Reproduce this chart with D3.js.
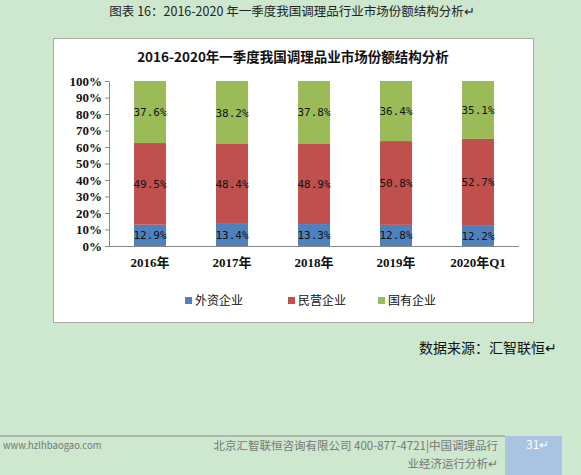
<!DOCTYPE html>
<html><head><meta charset="utf-8">
<script src="https://cdn.jsdelivr.net/npm/d3@7/dist/d3.min.js"></script>
<style>body{margin:0;background:#cde8cf;}svg{display:block}</style>
</head><body>
<svg id="c" width="581" height="475"></svg>
<script>
const categories = ["2016年","2017年","2018年","2019年","2020年Q1"];
const seriesNames = ["外资企业","民营企业","国有企业"];
const foreign = [12.9,13.4,13.3,12.8,12.2];
const privateE = [49.5,48.4,48.9,50.8,52.7];
const stateE = [37.6,38.2,37.8,36.4,35.1];
const yTicks = [0,10,20,30,40,50,60,70,80,90,100];
const colors = ["#4f81bd","#c0504d","#9bbb59"];
const font = "'Noto Sans CJK SC','Noto Sans',sans-serif";
const serif = "'Liberation Serif','Noto Sans CJK SC',serif";

const svg = d3.select("#c");
svg.append("rect").attr("width",581).attr("height",475).attr("fill","#cde8cf");
svg.append("text").attr("x",292).attr("y",16).attr("text-anchor","middle").attr("font-family",font)
  .attr("font-size",12.5).attr("fill","#222").text("图表 16：2016-2020 年一季度我国调理品行业市场份额结构分析↵");
svg.append("rect").attr("x",53.5).attr("y",38.5).attr("width",480).attr("height",284)
  .attr("fill","#fff").attr("stroke","#aaa");
svg.append("text").attr("x",293).attr("y",62).attr("text-anchor","middle").attr("font-family",font)
  .attr("font-size",13.5).attr("font-weight","bold").attr("fill","#111").text("2016-2020年一季度我国调理品业市场份额结构分析");

const x = d3.scaleBand().domain(categories).range([109,519]).paddingInner(0.61).paddingOuter(0.305);
const y = d3.scaleLinear().domain([0,100]).range([246,81]);
const g = svg.append("g");
const ax = g.append("g").attr("transform","translate(109,0)")
  .call(d3.axisLeft(y).tickValues(yTicks).tickFormat(d=>d+"%").tickSize(4).tickSizeOuter(0));
ax.select(".domain").attr("stroke","#888");
ax.selectAll("line").attr("stroke","#888");
ax.selectAll("text").attr("font-family",serif).attr("font-size",13).attr("font-weight","bold").attr("fill","#111");
const bx = g.append("g").attr("transform","translate(0,246)")
  .call(d3.axisBottom(x).tickSize(0).tickPadding(12));
bx.select(".domain").attr("stroke","#888").attr("d","M109,0.5H519");
bx.selectAll("text").attr("font-family",serif).attr("font-size",13).attr("font-weight","bold").attr("fill","#111");

const data = categories.map((c,i)=>({c, v:[foreign[i],privateE[i],stateE[i]]}));
data.forEach(d=>{
  let acc=0;
  d.v.forEach((v,k)=>{
    const y0=acc, y1=acc+v; acc=y1;
    const top = k===2?100:y1;
    g.append("rect").attr("x",x(d.c)).attr("width",x.bandwidth())
      .attr("y",y(top)).attr("height",y(y0)-y(top)).attr("fill",colors[k]);
    g.append("text").attr("x",x(d.c)+x.bandwidth()/2).attr("y",(y(y0)+y(top))/2+4)
      .attr("text-anchor","middle").attr("font-family","'DejaVu Sans Mono',monospace").attr("font-size",11).attr("fill","#111")
      .text(v.toFixed(1)+"%");
  });
});
const lx=[185,288,378];
seriesNames.forEach((n,k)=>{
  g.append("rect").attr("x",lx[k]).attr("y",297).attr("width",7).attr("height",7).attr("fill",colors[k]);
  g.append("text").attr("x",lx[k]+10).attr("y",305).attr("font-family",font).attr("font-size",12).attr("fill","#111").text(n);
});
svg.append("text").attr("x",557).attr("y",353).attr("text-anchor","end").attr("font-family",font)
  .attr("font-size",14).attr("fill","#111").text("数据来源：汇智联恒↵");
svg.append("line").attr("x1",0).attr("x2",505).attr("y1",436).attr("y2",436).attr("stroke","#888");
svg.append("rect").attr("x",505).attr("y",436).attr("width",57).attr("height",39).attr("fill","#a9c4e0");
svg.append("text").attr("x",3).attr("y",449).attr("font-family",font).attr("font-size",9.5).attr("fill","#777").text("www.hzlhbaogao.com");
svg.append("text").attr("x",498).attr("y",450).attr("text-anchor","end").attr("font-family",font).attr("font-size",11.5).attr("fill","#777").text("北京汇智联恒咨询有限公司  400-877-4721|中国调理品行");
svg.append("text").attr("x",498).attr("y",468).attr("text-anchor","end").attr("font-family",font).attr("font-size",11.5).attr("fill","#777").text("业经济运行分析↵");
svg.append("text").attr("x",526).attr("y",449).attr("font-family",font).attr("font-size",12).attr("fill","#fff").text("31↵");
</script></body></html>
